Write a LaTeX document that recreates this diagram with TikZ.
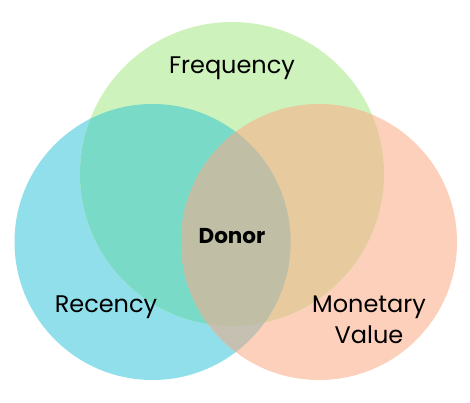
\documentclass[tikz,border=0pt]{standalone}
\usepackage{fontspec}
\setmainfont{Poppins}
\definecolor{vnfreq}{HTML}{CEF2BC}
\definecolor{vnrec}{HTML}{90DFEA}
\definecolor{vnmon}{HTML}{FDD0BB}
\definecolor{vnrecfreq}{HTML}{79DAC8}
\definecolor{vnfreqmon}{HTML}{E7CA9D}
\definecolor{vnrecmon}{HTML}{C6C0B2}
\definecolor{vncore}{HTML}{C0BEA5}

\begin{document}
\begin{tikzpicture}[x=1pt, y=-1pt]
  \useasboundingbox (0,0) rectangle (470,402);
  % plain circles
  \fill[vnrec] (152.5,242) circle (138pt);
  \fill[vnmon] (319,242) circle (138pt);
  \fill[vnfreq] (232,174) circle (152pt);
  % pairwise overlaps
  \begin{scope}
    \clip (152.5,242) circle (138pt);
    \fill[vnrecfreq] (232,174) circle (152pt);
  \end{scope}
  \begin{scope}
    \clip (319,242) circle (138pt);
    \fill[vnfreqmon] (232,174) circle (152pt);
  \end{scope}
  \begin{scope}
    \clip (152.5,242) circle (138pt);
    \fill[vnrecmon] (319,242) circle (138pt);
  \end{scope}
  % all three
  \begin{scope}
    \clip (152.5,242) circle (138pt);
    \clip (319,242) circle (138pt);
    \fill[vncore] (232,174) circle (152pt);
  \end{scope}
  % labels
  \node[font=\fontsize{24}{28}\selectfont, anchor=base] (freq) at (232,73) {Frequency};
  \node[font=\fontsize{24}{28}\selectfont, anchor=base] (rec) at (106,312) {Recency};
  \node[font=\fontsize{24}{31}\selectfont, anchor=base, align=center] (mon) at (369,343) {Monetary\\Value};
  \node[font=\fontsize{21.5}{26}\selectfont\bfseries, anchor=base] (donor) at (232,243) {Donor};
\end{tikzpicture}
\end{document}
